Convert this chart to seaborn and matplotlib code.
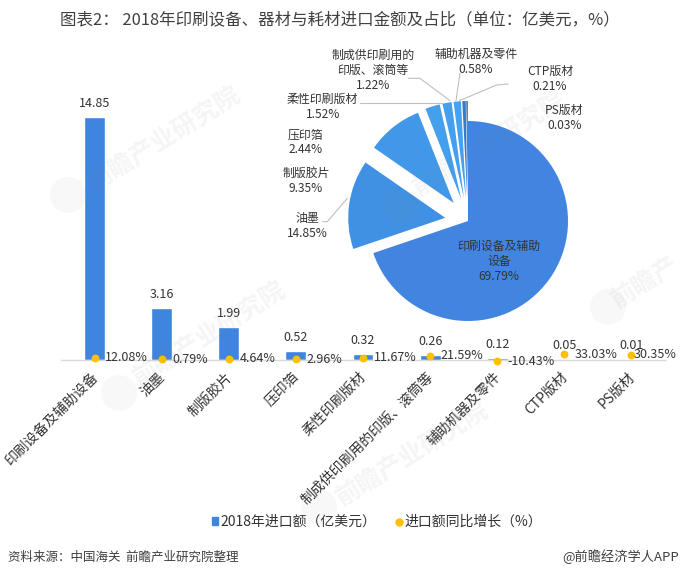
import matplotlib
matplotlib.use("Agg")
import matplotlib.pyplot as plt
from matplotlib.lines import Line2D
from matplotlib.patches import Patch, Ellipse
from matplotlib.transforms import ScaledTranslation
import seaborn as sns
import pandas as pd

sns.set_theme(style="white")
plt.rcParams['font.family'] = ['Noto Sans CJK SC', 'DejaVu Sans']

categories = ["印刷设备及辅助设备", "油墨", "制版胶片", "压印箔", "柔性印刷版材",
              "制成供印刷用的印版、滚筒等", "辅助机器及零件", "CTP版材", "PS版材"]
imports = [14.85, 3.16, 1.99, 0.52, 0.32, 0.26, 0.12, 0.05, 0.01]
growth = [12.08, 0.79, 4.64, 2.96, 11.67, 21.59, -10.43, 33.03, 30.35]
shares = [69.79, 14.85, 9.35, 2.44, 1.52, 1.22, 0.58, 0.21, 0.03]
share_names = ["印刷设备及辅助\n设备", "油墨", "制版胶片", "压印箔", "柔性印刷版材",
               "制成供印刷用的\n印版、滚筒等", "辅助机器及零件", "CTP版材", "PS版材"]
pie_colors = ["#4285E0", "#4091E3", "#4298E8", "#449FEC", "#44A0EE", "#44A2F0", "#2F7FD0", "#1A55A5", "#123F80"]
BAR = "#3F85E0"
DOT = "#FFC000"
TXT = "#333333"
W, H = 680, 579

fig = plt.figure(figsize=(W / 100, H / 100), dpi=100, facecolor="white")

def fx(x): return x / W
def fy(y): return 1 - y / H

# main axes: baseline at y=359.5
top_val = 16.0
ax = fig.add_axes([fx(61), fy(359.5), 604 / W, top_val * 16.3 / H], zorder=2)
ax.patch.set_alpha(0)
df = pd.DataFrame({"cat": categories, "imp": imports, "gr": [g / 100 for g in growth]})
sns.barplot(data=df, x="cat", y="imp", color=BAR, width=0.31, saturation=1, ax=ax, zorder=2)
sns.scatterplot(data=df, x="cat", y="gr", color=DOT, s=32, linewidth=0, ax=ax, clip_on=False, zorder=3)
ax.set_xlim(-0.5, 8.5)
ax.set_ylim(0, top_val)
ax.set_xlabel("")
ax.set_ylabel("")
ax.set_yticks([])
sns.despine(ax=ax, left=True)
ax.spines["bottom"].set_color("#D9D9D9")
ax.spines["bottom"].set_linewidth(1)
ax.tick_params(axis="x", length=0, pad=6)
ax.set_xticks(range(len(categories)))
ax.set_xticklabels(categories, rotation=45, ha="right", va="top", rotation_mode="anchor",
                   fontsize=10, color=TXT)
shift = ScaledTranslation(-4 / 100, -2 / 100, fig.dpi_scale_trans)
for lab in ax.get_xticklabels():
    lab.set_transform(lab.get_transform() + shift)

for i, (v, g) in enumerate(zip(imports, growth)):
    ax.annotate(f"{v:.2f}", (i, v), xytext=(0, 9.7), textcoords="offset points", ha="center",
                va="center", fontsize=9, color=TXT, zorder=5)
    dx = 1.5 if i == len(imports) - 1 else 7.6
    ax.annotate(f"{g:.2f}%", (i, g / 100), xytext=(dx, 0), textcoords="offset points", ha="left",
                va="center", fontsize=9, color=TXT, zorder=5, annotation_clip=False)

handles = [Patch(color=BAR, label="2018年进口额（亿美元）"),
           Line2D([], [], marker="o", ls="", color=DOT, markersize=5, label="进口额同比增长（%）")]
leg = ax.legend(handles=handles, loc="center", bbox_to_anchor=(fx(377), fy(522)),
                bbox_transform=fig.transFigure, ncol=2, frameon=False, fontsize=10,
                columnspacing=1.4, handletextpad=0.15, handlelength=0.5, handleheight=0.5,
                labelcolor=TXT)

# pie: centre (468,221), radius 100 px
R = 100
lim = 1.45
size = 2 * lim * R
pax = fig.add_axes([fx(468 - size / 2), fy(221 + size / 2), size / W, size / H], zorder=4)
pax.patch.set_alpha(0)
wedges, _ = pax.pie(shares, colors=pie_colors, startangle=90, counterclock=False,
                    explode=[0] + [0.23] * 8, radius=1, wedgeprops=dict(linewidth=0))
for w in wedges[1:]:
    w.set_radius(0.97)
pax.set_xlim(-lim, lim)
pax.set_ylim(-lim, lim)
pax.set_aspect("equal")

for (name, s), (zx, zy) in zip(zip(share_names, shares),
                               [(747, 695), (173, 588), (168, 452), (167, 337), (218, 232),
                                (370, 122), (678, 95), (900, 147), (943, 265)]):
    fig.text(fx(250 + zx / 3), fy(30 + zy / 3), f"{name}\n{s:.2f}%", ha="center", va="center",
             fontsize=8.6, color=TXT, linespacing=1.2, zorder=6)

for pts in [[(218, 575), (232, 575), (292, 505)],
            [(475, 145), (510, 145), (600, 212)],
            [(330, 218), (575, 218)],
            [(630, 130), (618, 212)],
            [(775, 162), (740, 165), (628, 212)]]:
    fig.add_artist(Line2D([fx(250 + p[0] / 3) for p in pts], [fy(30 + p[1] / 3) for p in pts],
                          color="#BFBFBF", lw=0.8, zorder=5))

# faint watermarks over everything
for (x, y, t) in [(165, 140, "前瞻产业研究院"), (490, 145, "前瞻产业研究院"), (210, 335, "前瞻产业研究院"),
                  (413, 455, "前瞻产业研究院"), (646, 283, "前瞻产")]:
    fig.text(fx(x), fy(y), t, rotation=32, ha="center", va="center", fontsize=18,
             color="#7A8088", alpha=0.08, fontweight="bold", zorder=10)
for x, y in [(68, 195), (400, 207), (119, 393), (319, 507), (608, 307)]:
    fig.add_artist(Ellipse((fx(x), fy(y)), 36 / W, 36 / H, transform=fig.transFigure,
                           color="#7A8088", alpha=0.05, lw=0, zorder=10))

fig.text(fx(60), fy(20), "图表2： 2018年印刷设备、器材与耗材进口金额及占比（单位：亿美元，%）",
         ha="left", va="center", fontsize=11.85, color="#404040")
fig.text(fx(8), fy(557), "资料来源：中国海关  前瞻产业研究院整理", ha="left", va="center",
         fontsize=9, style="italic", color="#404040")
fig.text(fx(679), fy(557), "@前瞻经济学人APP", ha="right", va="center", fontsize=9.5, color="#404040")

fig.savefig("out.png", dpi=100)
